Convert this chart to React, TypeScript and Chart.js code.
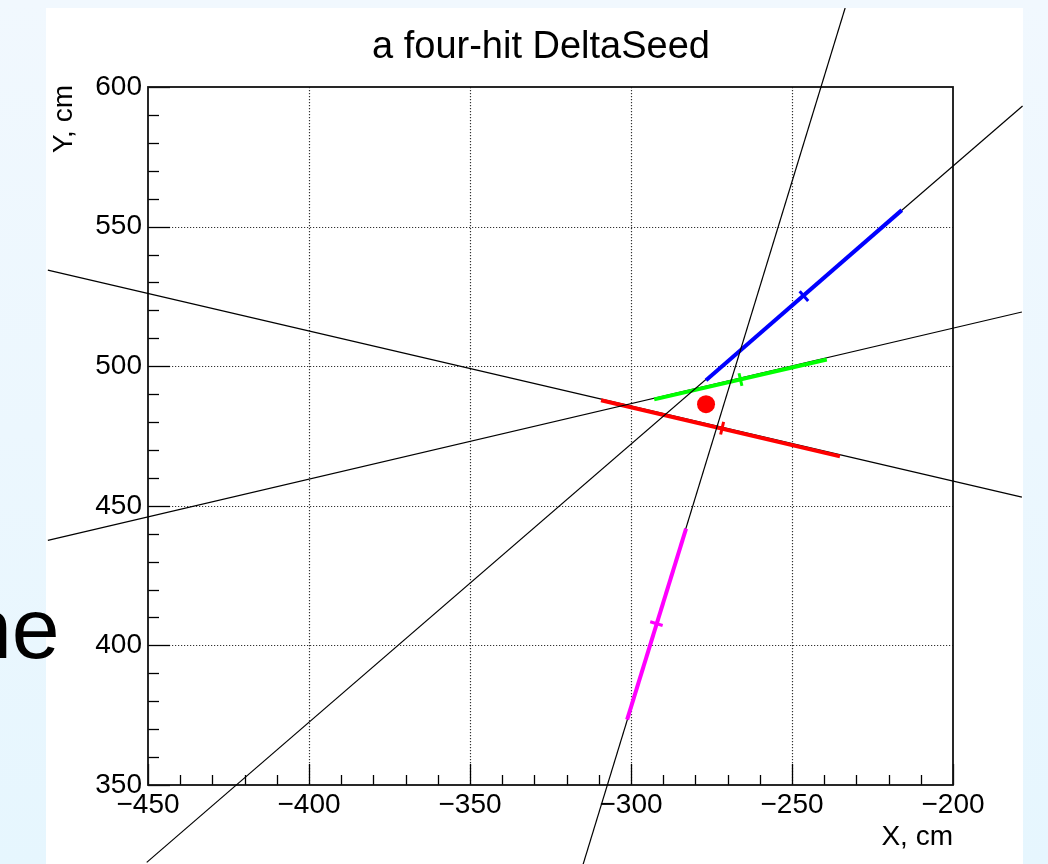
import React, { useEffect, useRef } from "react";
import { Chart, registerables } from "chart.js";

Chart.register(...registerables);

// ---- text ----
const titleText = "a four-hit DeltaSeed";
const xAxisTitle = "X, cm";
const yAxisTitle = "Y, cm";
const sideText = "ne";

// ---- axes ----
const xMin = -450;
const xMax = -200;
const yMin = 350;
const yMax = 600;
const xMajorTicks = [-450, -400, -350, -300, -250, -200];
const yMajorTicks = [350, 400, 450, 500, 550, 600];
const minorDivisions = 5;

// ---- tracks (red, green, blue, magenta) ----
const trackColors = ["#ff0000", "#00ff00", "#0000ff", "#ff00ff"];
// full black fitted lines (endpoints at the pad edges)
const lineX1 = [-481.1, -481.1, -450.4, -314.9];
const lineY1 = [534.4, 437.6, 322.3, 321.5];
const lineX2 = [-178.6, -178.6, -178.4, -233.5];
const lineY2 = [453.1, 519.4, 593.2, 628.3];
// coloured hit segments
const segX1 = [-309.3, -292.8, -276.7, -301.2];
const segY1 = [487.8, 488.1, 495.0, 373.4];
const segX2 = [-235.1, -239.2, -215.9, -282.9];
const segY2 = [467.7, 502.4, 555.9, 441.8];
// hit centres (short perpendicular marks)
const hitX = [-271.7, -266.0, -246.3, -292.1];
const hitY = [477.8, 495.2, 525.1, 407.8];
// seed vertex
const vertexX = [-276.7];
const vertexY = [486.4];

const FONT = "'Liberation Sans', Arial, Helvetica, sans-serif";

function minorTicks(majors: number[]): number[] {
  const out: number[] = [];
  for (let i = 0; i < majors.length - 1; i++) {
    const step = (majors[i + 1] - majors[i]) / minorDivisions;
    for (let k = 1; k < minorDivisions; k++) out.push(majors[i] + k * step);
  }
  return out;
}

const fmt = (v: number) => (v < 0 ? "\u2212" + Math.abs(v) : String(v));

const framePlugin = {
  id: "rootFrame",
  beforeDatasetsDraw(chart: any) {
    const { ctx, chartArea: a, scales } = chart;
    const xs = scales.x;
    const ys = scales.y;
    ctx.save();
    // dotted grid
    ctx.strokeStyle = "#333";
    ctx.lineWidth = 1.2;
    ctx.setLineDash([1.2, 1.8]);
    xMajorTicks.forEach((v) => {
      if (v === xMin || v === xMax) return;
      const px = Math.round(xs.getPixelForValue(v)) + 0.5;
      ctx.beginPath();
      ctx.moveTo(px, a.top);
      ctx.lineTo(px, a.bottom);
      ctx.stroke();
    });
    yMajorTicks.forEach((v) => {
      if (v === yMin || v === yMax) return;
      const py = Math.round(ys.getPixelForValue(v)) + 0.5;
      ctx.beginPath();
      ctx.moveTo(a.left, py);
      ctx.lineTo(a.right, py);
      ctx.stroke();
    });
    ctx.setLineDash([]);
    // ticks inside
    ctx.strokeStyle = "#000";
    ctx.lineWidth = 1.3;
    const tick = (x1: number, y1: number, x2: number, y2: number) => {
      ctx.beginPath();
      ctx.moveTo(x1, y1);
      ctx.lineTo(x2, y2);
      ctx.stroke();
    };
    xMajorTicks.forEach((v) => {
      const px = Math.round(xs.getPixelForValue(v)) + 0.5;
      tick(px, a.bottom, px, a.bottom - 21);
    });
    minorTicks(xMajorTicks).forEach((v) => {
      const px = Math.round(xs.getPixelForValue(v)) + 0.5;
      tick(px, a.bottom, px, a.bottom - 10);
    });
    yMajorTicks.forEach((v) => {
      const py = Math.round(ys.getPixelForValue(v)) + 0.5;
      tick(a.left, py, a.left + 22, py);
    });
    minorTicks(yMajorTicks).forEach((v) => {
      const py = Math.round(ys.getPixelForValue(v)) + 0.5;
      tick(a.left, py, a.left + 11, py);
    });
    // frame
    ctx.lineWidth = 1.8;
    ctx.strokeStyle = "#111";
    ctx.strokeRect(a.left, a.top, a.right - a.left, a.bottom - a.top);
    ctx.restore();
  },
  afterDraw(chart: any) {
    const { ctx, chartArea: a } = chart;
    ctx.save();
    ctx.fillStyle = "#000";
    // title
    ctx.font = `38px ${FONT}`;
    ctx.textAlign = "center";
    ctx.textBaseline = "alphabetic";
    ctx.fillText(titleText, 495, 50);
    // x title
    ctx.font = `28px ${FONT}`;
    ctx.textAlign = "right";
    ctx.fillText(xAxisTitle, a.right, 837);
    // y title
    ctx.translate(26, a.top - 2);
    ctx.rotate(-Math.PI / 2);
    ctx.textAlign = "right";
    ctx.fillText(yAxisTitle, 0, 0);
    ctx.restore();
  },
};

function pts(xa: number[], ya: number[]) {
  return xa.map((x, i) => ({ x, y: ya[i] }));
}

export default function App() {
  const ref = useRef<HTMLCanvasElement | null>(null);

  useEffect(() => {
    if (!ref.current) return;
    const datasets: any[] = [];
    let seq = 0;
    trackColors.forEach((color, i) => {
      datasets.push({
        data: pts([lineX1[i], lineX2[i]], [lineY1[i], lineY2[i]]),
        showLine: true,
        borderColor: "#000",
        borderWidth: 1.2,
        pointRadius: 0,
        clip: false,
        order: 100 - seq++,
      });
      datasets.push({
        data: pts([segX1[i], segX2[i]], [segY1[i], segY2[i]]),
        showLine: true,
        borderColor: color,
        borderWidth: 4,
        pointRadius: 0,
        clip: false,
        order: 100 - seq++,
      });
      datasets.push({
        data: pts([hitX[i]], [hitY[i]]),
        showLine: false,
        pointStyle: "line",
        pointRadius: 6.5,
        pointBorderWidth: 3,
        pointBorderColor: color,
        pointBackgroundColor: color,
        pointRotation: (c: any) => {
          const xs = c.chart.scales.x;
          const ys = c.chart.scales.y;
          const dx = xs.getPixelForValue(segX2[i]) - xs.getPixelForValue(segX1[i]);
          const dy = ys.getPixelForValue(segY2[i]) - ys.getPixelForValue(segY1[i]);
          return (Math.atan2(dy, dx) * 180) / Math.PI + 90;
        },
        clip: false,
        order: 100 - seq++,
      });
    });
    datasets.push({
      data: pts(vertexX, vertexY),
      showLine: false,
      pointStyle: "circle",
      pointRadius: 9,
      pointBorderWidth: 0,
      pointBackgroundColor: "#ff0000",
      pointBorderColor: "#ff0000",
      order: 100 - seq++,
    });

    const tickFont = { family: FONT, size: 28 };
    const chart = new Chart(ref.current, {
      type: "scatter",
      data: { datasets },
      options: {
        animation: false,
        responsive: false,
        events: [],
        layout: { padding: { top: 79, right: 70, bottom: 0, left: 0 } },
        plugins: { legend: { display: false }, tooltip: { enabled: false }, title: { display: false } },
        scales: {
          x: {
            type: "linear",
            min: xMin,
            max: xMax,
            afterBuildTicks: (s: any) => {
              s.ticks = xMajorTicks.map((v) => ({ value: v }));
            },
            afterFit: (s: any) => {
              s.height = 79;
            },
            grid: { display: false, drawTicks: false },
            border: { display: false },
            ticks: {
              padding: 3,
              color: "#000",
              font: tickFont,
              maxRotation: 0,
              autoSkip: false,
              callback: (v: any) => fmt(Number(v)),
            },
          },
          y: {
            type: "linear",
            min: yMin,
            max: yMax,
            afterBuildTicks: (s: any) => {
              s.ticks = yMajorTicks.map((v) => ({ value: v }));
            },
            afterFit: (s: any) => {
              s.width = 102;
            },
            grid: { display: false, drawTicks: false },
            border: { display: false },
            ticks: {
              padding: 6,
              color: "#000",
              font: tickFont,
              autoSkip: false,
              callback: (v: any) => fmt(Number(v)),
            },
          },
        },
      },
      plugins: [framePlugin],
    });
    return () => chart.destroy();
  }, []);

  return (
    <div
      style={{
        position: "fixed",
        left: 0,
        top: 0,
        width: 1048,
        height: 864,
        overflow: "hidden",
        background: "linear-gradient(to bottom, #f1f8fe 0%, #ecf7fe 50%, #e6f6fe 100%)",
      }}
    >
      <div
        style={{
          position: "absolute",
          left: 46,
          top: 8,
          width: 977,
          height: 856,
          background: "#ffffff",
        }}
      >
        <canvas ref={ref} width={977} height={856} style={{ display: "block", width: 977, height: 856 }} />
      </div>
      <div
        style={{
          position: "absolute",
          left: -36,
          top: 585,
          fontFamily: FONT,
          fontSize: 86,
          lineHeight: "86px",
          color: "#000",
          whiteSpace: "nowrap",
          zIndex: 2,
        }}
      >
        {sideText}
      </div>
    </div>
  );
}
